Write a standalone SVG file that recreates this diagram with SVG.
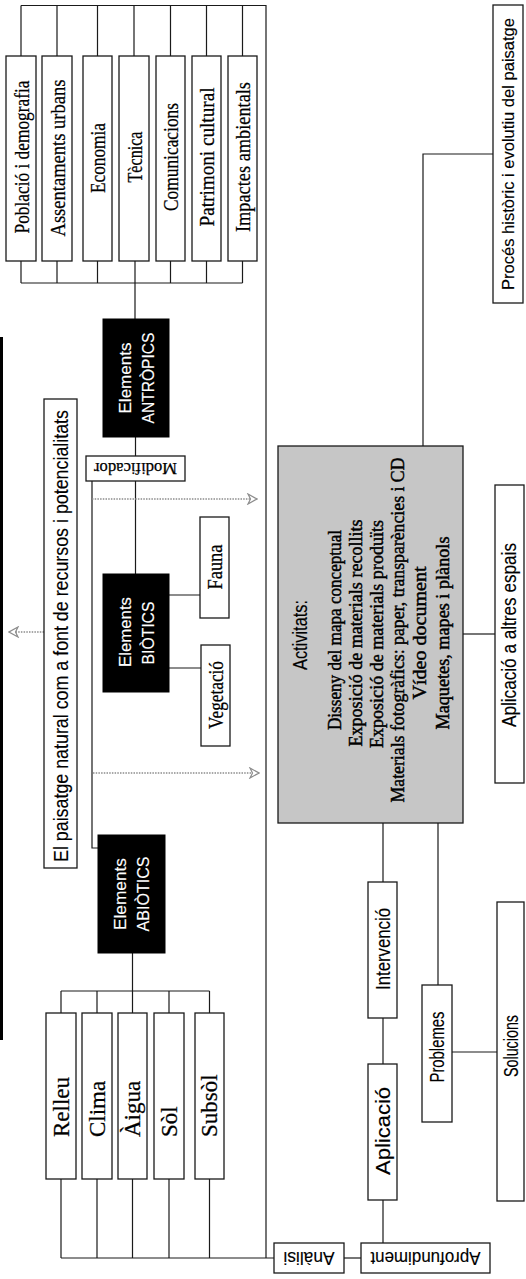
<svg xmlns="http://www.w3.org/2000/svg" width="526" height="1279" viewBox="0 0 526 1279">
<style>
.box{fill:#fff;stroke:#1a1a1a;stroke-width:1.3}
.blk{fill:#000;stroke:#000}
.gray{fill:#c6c6c6;stroke:#1a1a1a;stroke-width:1.3}
.ln{stroke:#1a1a1a;stroke-width:1.2;fill:none}
.dot{stroke:#8c8c8c;stroke-width:1.4;stroke-dasharray:1.5 1.2;fill:none}
.sf{font-family:"Liberation Serif","Times New Roman",serif;fill:#000;stroke:#000;stroke-width:0.25;text-anchor:middle;dominant-baseline:central}
.ss{font-family:"Liberation Sans",Arial,sans-serif;fill:#000;stroke:#000;stroke-width:0.15;text-anchor:middle;dominant-baseline:central}
.wt{fill:#fff;stroke:#fff;font-size:17px}
.bd{stroke-width:0.45}
</style>
<defs>
<marker id="ah" viewBox="0 0 12 12" refX="11" refY="6" markerWidth="12" markerHeight="12" markerUnits="userSpaceOnUse" orient="auto">
<path d="M2,1 L11,6 L2,11 L4.5,6 Z" fill="#fff" stroke="#8c8c8c" stroke-width="1.2"/>
</marker>
</defs>

<rect x="0" y="337" width="3" height="703" fill="#000"/>

<g id="connectors">
<path class="ln" d="M21,5.5 H266 V1258"/>
<path class="ln" d="M21,5.5 V56 M57,5.5 V56 M97.5,5.5 V56 M134,5.5 V56 M170.5,5.5 V56 M206.5,5.5 V56 M242.5,5.5 V56"/>
<path class="ln" d="M21,261 V283 M57,261 V283 M97.5,261 V283 M170.5,261 V283 M206.5,261 V283 M242.5,261 V283 M21,283 H242.5 M135,261 V319"/>
<path class="ln" d="M135.5,437 V574"/>
<path class="ln" d="M92,481 V848 H98"/>
<path class="ln" d="M169,595 H200 M169,668 H201"/>
<path class="ln" d="M132.5,953 V1013 M61,991 H209.5 M61,991 V1013 M97,991 V1013 M169,991 V1013 M209.5,991 V1013"/>
<path class="ln" d="M61,1179 V1258 M97,1179 V1258 M132.5,1179 V1258 M169,1179 V1258 M209.5,1179 V1258 M61,1258 H274"/>
<path class="ln" d="M344,1258 H361"/>
<path class="ln" d="M383,1243 V1200 M383,1064 V1018 M383,882 V823"/>
<path class="ln" d="M438,823 V985 M452,1052 H497"/>
<path class="ln" d="M463,634 H495"/>
<path class="ln" d="M423,446 V154 H493"/>
<path class="dot" d="M92,499 H257" marker-end="url(#ah)"/>
<path class="dot" d="M93,773 H259" marker-end="url(#ah)"/>
<path class="dot" d="M44,632 H9" marker-end="url(#ah)"/>
</g>

<g id="n-poblacio"><rect class="box" x="6" y="56" width="30" height="205"/><text class="sf" font-size="22" textLength="153" lengthAdjust="spacingAndGlyphs" transform="translate(21,157) rotate(-90)">Població i demografia</text></g>
<g id="n-assentaments"><rect class="box" x="42" y="56" width="30" height="205"/><text class="sf" font-size="22" textLength="157" lengthAdjust="spacingAndGlyphs" transform="translate(57,158) rotate(-90)">Assentaments urbans</text></g>
<g id="n-economia"><rect class="box" x="83" y="56" width="29" height="205"/><text class="sf" font-size="22" textLength="70" lengthAdjust="spacingAndGlyphs" transform="translate(97.5,158) rotate(-90)">Economia</text></g>
<g id="n-tecnica"><rect class="box" x="119" y="56" width="30" height="205"/><text class="sf" font-size="22" textLength="51" lengthAdjust="spacingAndGlyphs" transform="translate(134,157) rotate(-90)">Tècnica</text></g>
<g id="n-comunicacions"><rect class="box" x="156" y="56" width="29" height="205"/><text class="sf" font-size="22" textLength="108" lengthAdjust="spacingAndGlyphs" transform="translate(170.5,157) rotate(-90)">Comunicacions</text></g>
<g id="n-patrimoni"><rect class="box" x="192" y="56" width="29" height="205"/><text class="sf" font-size="22" textLength="139" lengthAdjust="spacingAndGlyphs" transform="translate(206.5,157) rotate(-90)">Patrimoni cultural</text></g>
<g id="n-impactes"><rect class="box" x="228" y="56" width="29" height="205"/><text class="sf" font-size="22" textLength="150" lengthAdjust="spacingAndGlyphs" transform="translate(242.5,157) rotate(-90)">Impactes ambientals</text></g>

<g id="n-antropics"><rect class="blk" x="103" y="319" width="66" height="118"/><text class="ss wt" textLength="71" lengthAdjust="spacingAndGlyphs" transform="translate(125,378) rotate(-90)">Elements</text><text class="ss wt" textLength="91" lengthAdjust="spacingAndGlyphs" transform="translate(148,378) rotate(-90)">ANTRÒPICS</text></g>

<g id="n-modificador"><rect class="box" x="86" y="456" width="99" height="25"/><text class="sf" font-size="17" textLength="83" lengthAdjust="spacingAndGlyphs" transform="translate(135.5,468.5) rotate(180)">Modificador</text></g>

<g id="n-paisatge"><rect class="box" x="44" y="399" width="33" height="469"/><text class="ss" font-size="20" textLength="452" lengthAdjust="spacingAndGlyphs" transform="translate(60.5,636) rotate(-90)">El paisatge natural com a font de recursos i potencialitats</text></g>

<g id="n-biotics"><rect class="blk" x="103" y="574" width="66" height="118"/><text class="ss wt" textLength="70" lengthAdjust="spacingAndGlyphs" transform="translate(125,632) rotate(-90)">Elements</text><text class="ss wt" textLength="63" lengthAdjust="spacingAndGlyphs" transform="translate(148,633) rotate(-90)">BIÒTICS</text></g>
<g id="n-fauna"><rect class="box" x="200" y="517" width="29" height="101"/><text class="sf" font-size="20" textLength="45" lengthAdjust="spacingAndGlyphs" transform="translate(214.5,567) rotate(-90)">Fauna</text></g>
<g id="n-vegetacio"><rect class="box" x="201" y="645" width="29" height="101"/><text class="sf" font-size="20" textLength="68" lengthAdjust="spacingAndGlyphs" transform="translate(215.5,695) rotate(-90)">Vegetació</text></g>

<g id="n-abiotics"><rect class="blk" x="98" y="835" width="67" height="118"/><text class="ss wt" textLength="72" lengthAdjust="spacingAndGlyphs" transform="translate(120,894) rotate(-90)">Elements</text><text class="ss wt" textLength="75" lengthAdjust="spacingAndGlyphs" transform="translate(143.5,894) rotate(-90)">ABIÒTICS</text></g>

<g id="n-relleu"><rect class="box" x="46" y="1013" width="30" height="166"/><text class="sf" font-size="23" style="text-anchor:start" transform="translate(61,1137) rotate(-90)">Relleu</text></g>
<g id="n-clima"><rect class="box" x="82" y="1013" width="30" height="166"/><text class="sf" font-size="23" style="text-anchor:start" transform="translate(97,1137) rotate(-90)">Clima</text></g>
<g id="n-aigua"><rect class="box" x="118" y="1013" width="29" height="166"/><text class="sf" font-size="23" style="text-anchor:start" transform="translate(132.5,1137) rotate(-90)">Àigua</text></g>
<g id="n-sol"><rect class="box" x="154" y="1013" width="30" height="166"/><text class="sf" font-size="23" style="text-anchor:start" transform="translate(169,1137) rotate(-90)">Sòl</text></g>
<g id="n-subsol"><rect class="box" x="195" y="1013" width="29" height="166"/><text class="sf" font-size="23" style="text-anchor:start" transform="translate(209.5,1137) rotate(-90)">Subsòl</text></g>

<g id="n-analisi"><rect class="box" x="274" y="1243" width="70" height="30"/><text class="ss" font-size="19" textLength="51" lengthAdjust="spacingAndGlyphs" transform="translate(309,1258) rotate(180)">Anàlisi</text></g>
<g id="n-aprofundiment"><rect class="box" x="361" y="1243" width="129" height="30"/><text class="ss" font-size="19" textLength="110" lengthAdjust="spacingAndGlyphs" transform="translate(425.5,1258) rotate(180)">Aprofundiment</text></g>

<g id="n-activitats"><rect class="gray" x="278" y="446" width="185" height="377"/>
<text class="ss" font-size="21" textLength="70" lengthAdjust="spacingAndGlyphs" transform="translate(299,635) rotate(-90)">Activitats:</text>
<text class="sf bd" font-size="18" textLength="200" lengthAdjust="spacingAndGlyphs" transform="translate(335,630) rotate(-90)">Disseny del mapa conceptual</text>
<text class="sf bd" font-size="18" textLength="227" lengthAdjust="spacingAndGlyphs" transform="translate(356,633) rotate(-90)">Exposició de materials recollits</text>
<text class="sf bd" font-size="18" textLength="228" lengthAdjust="spacingAndGlyphs" transform="translate(377,634) rotate(-90)">Exposició de materials produïts</text>
<text class="sf bd" font-size="18" textLength="345" lengthAdjust="spacingAndGlyphs" transform="translate(398,630) rotate(-90)">Materials fotogràfics: paper, transparències i CD</text>
<text class="sf bd" font-size="18" textLength="133" lengthAdjust="spacingAndGlyphs" transform="translate(420,633) rotate(-90)">Vídeo document</text>
<text class="sf bd" font-size="18" textLength="193" lengthAdjust="spacingAndGlyphs" transform="translate(443,633) rotate(-90)">Maquetes, mapes i plànols</text>
</g>

<g id="n-intervencio"><rect class="box" x="368" y="882" width="29" height="136"/><text class="ss" font-size="20" textLength="82" lengthAdjust="spacingAndGlyphs" transform="translate(382.5,949) rotate(-90)">Intervenció</text></g>
<g id="n-aplicacio"><rect class="box" x="368" y="1064" width="29" height="136"/><text class="ss" font-size="20" textLength="88" lengthAdjust="spacingAndGlyphs" transform="translate(382.5,1131) rotate(-90)">Aplicació</text></g>
<g id="n-problemes"><rect class="box" x="422" y="985" width="30" height="137"/><text class="ss" font-size="20" textLength="71" lengthAdjust="spacingAndGlyphs" transform="translate(437,1047) rotate(-90)">Problemes</text></g>
<g id="n-solucions"><rect class="box" x="497" y="902" width="27" height="299"/><text class="ss" font-size="20" textLength="62" lengthAdjust="spacingAndGlyphs" transform="translate(510.5,1046) rotate(-90)">Solucions</text></g>
<g id="n-aplicacio-espais"><rect class="box" x="495" y="485" width="29" height="298"/><text class="ss" font-size="20" textLength="184" lengthAdjust="spacingAndGlyphs" transform="translate(509,635) rotate(-90)">Aplicació a altres espais</text></g>
<g id="n-proces"><rect class="box" x="493" y="5" width="30" height="298"/><text class="ss" font-size="17" textLength="272" lengthAdjust="spacingAndGlyphs" transform="translate(508,154) rotate(-90)">Procés històric i evolutiu del paisatge</text></g>
</svg>
